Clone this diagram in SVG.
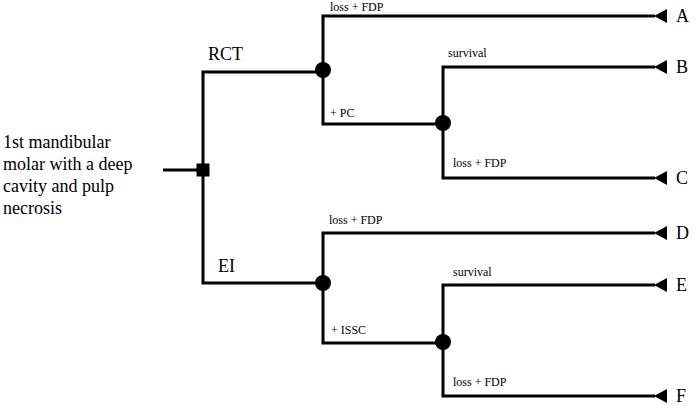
<svg xmlns="http://www.w3.org/2000/svg" width="695" height="406" viewBox="0 0 695 406">
<defs>
<style>
.ln{fill:none;stroke:#000;stroke-width:3;}
.ch{fill:#000;}
text{font-family:'Liberation Serif','Times New Roman','DejaVu Serif',serif;fill:#000;}
.big{font-size:18px;}
.sm{font-size:12px;}
.end{font-size:18px;}
</style>
</defs>
<rect width="695" height="406" fill="#fff"/>
<g id="connectors">
<path class="ln" d="M163,170 H203"/>
<path class="ln" d="M323,72 H203 V283 H323"/>
<path class="ln" d="M655,16 H323 V124 H443"/>
<path class="ln" d="M655,67 H443 V178 H655"/>
<path class="ln" d="M655,233 H323 V343 H443"/>
<path class="ln" d="M655,285 H443 V396 H655"/>
<polygon class="ch" points="654,16 667,9 667,23"/>
<polygon class="ch" points="654,67 667,60 667,74"/>
<polygon class="ch" points="654,178 667,171 667,185"/>
<polygon class="ch" points="654,233 667,226 667,240"/>
<polygon class="ch" points="654,285 667,278 667,292"/>
<polygon class="ch" points="654,396 667,389 667,403"/>
</g>
<g id="root">
<text class="big" x="3" y="148">1st mandibular</text>
<text class="big" x="3" y="170">molar with a deep</text>
<text class="big" x="3" y="192">cavity and pulp</text>
<text class="big" x="3" y="214">necrosis</text>
<rect class="ch" x="196.5" y="163.5" width="13" height="13"/>
</g>
<g id="rct">
<text class="big" x="208" y="60">RCT</text>
<circle class="ch" cx="323" cy="70" r="8"/>
<text class="sm" x="330" y="11">loss + FDP</text>
<text class="sm" x="330" y="117">+ PC</text>
</g>
<g id="pc">
<circle class="ch" cx="443" cy="123" r="8"/>
<text class="sm" x="448" y="57">survival</text>
<text class="sm" x="453" y="167">loss + FDP</text>
</g>
<g id="ei">
<text class="big" x="218" y="272">EI</text>
<circle class="ch" cx="323" cy="283" r="8"/>
<text class="sm" x="329" y="224">loss + FDP</text>
<text class="sm" x="331" y="334">+ ISSC</text>
</g>
<g id="issc">
<circle class="ch" cx="443" cy="342" r="8"/>
<text class="sm" x="453" y="276">survival</text>
<text class="sm" x="453" y="386">loss + FDP</text>
</g>
<g id="outcomes">
<text class="end" x="676" y="22">A</text>
<text class="end" x="676" y="73">B</text>
<text class="end" x="676" y="184">C</text>
<text class="end" x="676" y="239">D</text>
<text class="end" x="676" y="291">E</text>
<text class="end" x="676" y="402">F</text>
</g>
</svg>
